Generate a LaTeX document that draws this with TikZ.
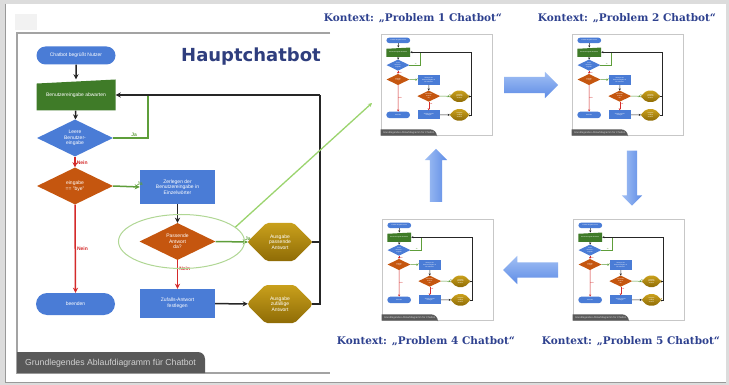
\documentclass[tikz,border=0pt]{standalone}
\usepackage{fontspec}
\setsansfont{Liberation Sans}
\newfontfamily\titelfont{DejaVu Sans}
\newfontfamily\kontextfont{DejaVu Serif}
\usepackage{tikz}
\usetikzlibrary{calc}
\usetikzlibrary{arrows.meta}
\usetikzlibrary{shapes.geometric}
\usetikzlibrary{shapes.misc}
\usetikzlibrary{shapes.arrows}

\definecolor{flowblue}{HTML}{4A7CD6}
\definecolor{flowgreen}{HTML}{3F7B28}
\definecolor{floworange}{HTML}{C5560F}
\definecolor{goldhell}{HTML}{C9A01C}
\definecolor{golddunkel}{HTML}{8F6C06}
\definecolor{jagreen}{HTML}{5E9E3A}
\definecolor{neinred}{HTML}{D42A2A}
\definecolor{titelblau}{HTML}{2F3E7E}
\definecolor{kontextblau}{HTML}{2E418F}
\definecolor{pfeilhell}{HTML}{A2C0F4}
\definecolor{pfeildunkel}{HTML}{5E8CE6}
\definecolor{tabgrau}{HTML}{595959}
\definecolor{rahmengrau}{HTML}{A3A3A3}
\definecolor{randgrau}{HTML}{DCDCDC}
\definecolor{hinweisgruen}{HTML}{9BD46E}
\definecolor{ellipsengruen}{HTML}{B0D794}

\newcommand{\flowfont}{\sffamily\fontsize{5}{5.7}\selectfont}
\newcommand{\labelfont}{\sffamily\bfseries\fontsize{5}{6}\selectfont}

\tikzset{
    flowlw/.store in=\flowlw,
    flowlw=1.5pt,
    >={Stealth[length=0.6pt 3,width=0.6pt 3]},
    flowtext/.style={font=\flowfont, text=white, align=center, inner sep=0pt},
    terminal/.style={flowtext, rounded rectangle, fill=flowblue, minimum width=79pt, minimum height=18pt},
    eingabe/.style={flowtext, rectangle, fill=white, minimum width=79pt, minimum height=31pt,
        path picture={\fill[flowgreen] (path picture bounding box.south west)
            -- (path picture bounding box.south east) -- (path picture bounding box.north east)
            -- ($(path picture bounding box.north west)!.13!(path picture bounding box.south west)$) -- cycle;}},
    entscheidung/.style={flowtext, diamond, aspect=2, minimum width=76pt, minimum height=37pt},
    schritt/.style={flowtext, rectangle, fill=flowblue, minimum width=75pt},
    ausgabe/.style={flowtext, chamfered rectangle, chamfered rectangle xsep=9pt, chamfered rectangle ysep=13pt,
        rounded corners=2pt, top color=goldhell, bottom color=golddunkel, minimum width=64pt, minimum height=38pt},
    linie/.style={draw=black!85, line width=\flowlw},
    jalinie/.style={draw=jagreen, line width=\flowlw},
    neinlinie/.style={draw=neinred, line width=\flowlw},
    jatext/.style={font=\labelfont, text=jagreen, inner sep=1pt},
    neintext/.style={font=\labelfont, text=neinred, inner sep=1pt},
    vorschau/.style={draw=black!22, line width=0.8pt, fill=white, minimum width=111pt, minimum height=101pt, inner sep=0pt},
    kontext/.style={font=\kontextfont\bfseries\fontsize{10.5}{12}\selectfont, text=kontextblau, inner sep=0pt},
    dickpfeil/.style={single arrow, single arrow head extend=5pt},
    pics/ablauf/.style={code={
        \node[terminal] (-start) at (59,22.5) {Chatbot begrüßt Nutzer};
        \node[eingabe] (-input) at (59,62) {Benutzereingabe abwarten};
        \node[entscheidung, fill=flowblue] (-leer) at (58,105) {Leere\\Benutzer-\\eingabe};
        \node[entscheidung, fill=floworange] (-bye) at (58,153) {eingabe\\== "bye"};
        \node[schritt, minimum height=34pt] (-split) at (160.5,154) {Zerlegen der\\Benutzereingabe in\\Einzelwörter};
        \node[entscheidung, fill=floworange] (-passt) at (160.5,208.5) {Passende\\Antwort\\da?};
        \node[schritt, minimum height=29pt] (-zufall) at (160.5,270.5) {Zufalls-Antwort\\festlegen};
        \node[ausgabe] (-aus1) at (263,209) {Ausgabe\\passende\\Antwort};
        \node[ausgabe] (-aus2) at (263,271) {Ausgabe\\zufällige\\Antwort};
        \node[terminal, minimum height=22pt] (-ende) at (58.5,271) {beenden};
        \coordinate (-knick) at (131,62);
        \coordinate (-rueck) at (303,62);

        \draw[linie,->] (-start) -- (-input);
        \draw[linie,->] (-input) -- (-leer);
        \draw[jalinie] (-leer.east) -| node[jatext, above, pos=.3] {Ja} (-knick);
        \draw[neinlinie,->] (-leer.south) -- node[neintext, right, pos=.6] {Nein} (-bye.north);
        \draw[jalinie,->] (-bye.east) -- node[jatext, above] {Ja} (-split.west);
        \draw[neinlinie,->] (-bye.south) -- node[neintext, right, pos=.5] {Nein} (-ende.north);
        \draw[linie,->] (-split) -- (-passt);
        \draw[jalinie,->] (-passt.east) -- node[jatext, above] {Ja} (-aus1.west);
        \draw[neinlinie,->] (-passt.south) -- node[neintext, right, pos=.3] {Nein} (-zufall.north);
        \draw[linie,->] (-zufall) -- (-aus2);
        \draw[linie] (-aus1.east) -| (-rueck);
        \draw[linie] (-aus2.east) -| (-rueck);
        \draw[linie,->] (-rueck) -- (-input.east);

        % Reiter unten links
        \fill[tabgrau] (0,340) -- (0,319) [rounded corners=7pt] -- (188,319) [sharp corners] -- (188,340) -- cycle;
        \node[anchor=west, font=\sffamily\fontsize{8.7}{9.5}\selectfont, text=black!18, inner sep=0pt] (-reiter)
            at (8,330) {Grundlegendes Ablaufdiagramm für Chatbot};
    }}
}

\begin{document}
\begin{tikzpicture}[x=1pt, y=-1pt]
    \useasboundingbox (0,0) rectangle (729,385);
    \fill[randgrau] (0,0) rectangle (729,385);
    \fill[white] (5,4) rectangle (726,382);
    \draw[black!40, line width=1pt] (5,4) -- (5,382) -- (726,382);
    \fill[black!5] (15,14) rectangle (37,30);

    % linkes Feld mit dem Hauptchatbot
    \draw[rahmengrau, line width=1.3pt] (330,33) -- (17,33) -- (17,373) -- (330,373);
    \pic (main) at (17,33) {ablauf};
    \node[font=\titelfont\bfseries\fontsize{18}{21}\selectfont, text=titelblau] (titel) at (251,57) {Hauptchatbot};
    \node[ellipse, draw=ellipsengruen, line width=1pt, minimum width=126pt, minimum height=54pt] (fokus)
        at ([xshift=4pt]main-passt.center) {};

    % Vorschaubilder rechts
    \node[vorschau] (thumb1) at (436.5,84.5) {};
    \node[vorschau] (thumb2) at (627.5,84.5) {};
    \node[vorschau] (thumb4) at (437.5,269.5) {};
    \node[vorschau] (thumb5) at (628.5,269.5) {};
    \foreach \t in {1,2,4,5}{
        \pic[scale=0.3, transform shape, flowlw=0.5pt] (mini\t) at (thumb\t.north west) {ablauf};
    }

    \node[kontext] (kopf1) at (413,18) {Kontext: „Problem 1 Chatbot“};
    \node[kontext] (kopf2) at (627,18) {Kontext: „Problem 2 Chatbot“};
    \node[kontext] (kopf4) at (426,341) {Kontext: „Problem 4 Chatbot“};
    \node[kontext] (kopf5) at (631,341) {Kontext: „Problem 5 Chatbot“};

    \node[dickpfeil, top color=pfeilhell, bottom color=pfeildunkel, inner sep=8pt, minimum height=54pt] (rechts) at (527,85) {};
    \node[dickpfeil, left color=pfeilhell, right color=pfeildunkel, shape border rotate=270, inner sep=5pt, minimum height=55pt] (runter) at (632,175.5) {};
    \node[dickpfeil, top color=pfeilhell, bottom color=pfeildunkel, shape border rotate=180, inner sep=7.5pt, minimum height=55pt, single arrow head extend=6.5pt] (links) at (534.5,270) {};
    \node[dickpfeil, left color=pfeilhell, right color=pfeildunkel, shape border rotate=90, inner sep=6pt, minimum height=53pt] (hoch) at (436,178.5) {};

    \coordinate (ziel) at (372,103);
    \draw[hinweisgruen, line width=1.3pt, -{Stealth[length=4pt,width=4pt]}] (fokus.15) -- (ziel);
\end{tikzpicture}
\end{document}
